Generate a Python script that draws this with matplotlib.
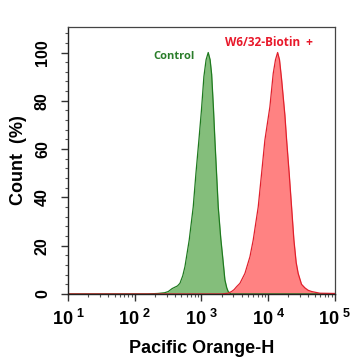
import matplotlib
matplotlib.use("Agg")
import matplotlib.pyplot as plt
from matplotlib.ticker import MultipleLocator, LogLocator, NullFormatter, FixedLocator
import numpy as np

# data (log10 of intensity, % of max count)
control_log = [1.0, 2.2, 2.35, 2.45, 2.503, 2.56, 2.603, 2.64, 2.678, 2.72, 2.753, 2.817,
               2.877, 2.918, 2.963, 3.0, 3.037, 3.07, 3.102, 3.13, 3.153, 3.18, 3.202,
               3.252, 3.29, 3.318, 3.352, 3.38, 3.401, 3.44, 5.0]
control_pct = [0, 0, 0.2, 0.5, 1.0, 2.2, 2.8, 3.3, 4.4, 7.5, 11.3, 22.3,
               36, 50, 64, 76, 90, 97, 100, 97, 91, 77, 63.7,
               36, 23, 15.4, 5.8, 2.5, 1.0, 0, 0]

biotin_log = [1.0, 3.3, 3.4, 3.452, 3.49, 3.527, 3.577, 3.652, 3.727, 3.776, 3.851,
              3.902, 3.951, 4.026, 4.076, 4.11, 4.142, 4.17, 4.201, 4.251, 4.276, 4.315,
              4.351, 4.386, 4.42, 4.45, 4.5, 4.551, 4.6, 4.651, 4.775, 5.0]
biotin_pct = [0, 0, 0.3, 1.0, 1.8, 3.0, 4.4, 8.5, 15.4, 22.3, 36,
              50, 63.7, 77.5, 91.3, 97, 100, 97, 89, 74, 64, 50,
              36, 22.3, 13, 8.5, 4.0, 2.5, 1.5, 1.0, 0.3, 0.2]

x_ticks = [10, 100, 1000, 10000, 100000]
x_ticklabels = [r"$\mathbf{10^{\ 1}}$", r"$\mathbf{10^{\ 2}}$", r"$\mathbf{10^{\ 3}}$",
                r"$\mathbf{10^{\ 4}}$", r"$\mathbf{10^{\ 5}}$"]
y_ticks = [0, 20, 40, 60, 80, 100]

plt.rcParams['mathtext.fontset'] = 'custom'
plt.rcParams['mathtext.rm'] = 'Liberation Sans'
plt.rcParams['mathtext.bf'] = 'Liberation Sans:bold'

fig = plt.figure(figsize=(3.54, 3.62), dpi=100)
ax = fig.add_axes([0.192, 0.188, 0.754, 0.737])

cx = 10 ** np.array(control_log)
bx = 10 ** np.array(biotin_log)

ax.fill_between(cx, control_pct, color="#7dbb74", alpha=0.95, lw=0)
ax.plot(cx, control_pct, color="#1f7a1f", lw=0.9)
ax.fill_between(bx, biotin_pct, color="#ff7b7b", alpha=0.95, lw=0)
ax.plot(bx, biotin_pct, color="#e0202c", lw=0.9)

ax.set_xscale("log")
ax.set_xlim(10, 100000)
ax.set_ylim(0, 110.5)

ax.xaxis.set_major_locator(FixedLocator(x_ticks))
ax.set_xticklabels(x_ticklabels, fontsize=13)
ax.xaxis.set_minor_locator(LogLocator(base=10, subs=np.arange(2, 10)))
ax.xaxis.set_minor_formatter(NullFormatter())

ax.set_yticks(y_ticks)
ax.set_yticklabels([str(v) for v in y_ticks], rotation=90, va="center",
                   fontsize=11.5, fontweight="bold", family="Liberation Sans")
ax.yaxis.set_minor_locator(MultipleLocator(4))

ax.tick_params(axis="both", which="major", direction="out", length=5, width=1, color="#333333")
ax.tick_params(axis="both", which="minor", direction="out", length=2.5, width=0.8, color="#555555")
ax.tick_params(axis="y", pad=8)
ax.tick_params(axis="x", pad=6)

for s in ["top", "right"]:
    ax.spines[s].set_color("#444444")
    ax.spines[s].set_linewidth(0.9)
for s in ["left", "bottom"]:
    ax.spines[s].set_color("#222222")
    ax.spines[s].set_linewidth(1.0)

ax.set_xlabel("Pacific Orange-H", fontsize=13, fontweight="bold", family="Liberation Sans", labelpad=8)
ax.set_ylabel("Count  (%)", fontsize=13, fontweight="bold", family="Liberation Sans", labelpad=6)

ax.text(0.397, 0.891, "Control", transform=ax.transAxes, ha="center", va="center",
        color="#2a7d2a", fontsize=8, fontweight="bold", family="Open Sans")
ax.text(0.753, 0.941, "W6/32-Biotin  +", transform=ax.transAxes, ha="center", va="center",
        color="#e8182a", fontsize=8.5, fontweight="bold", family="Open Sans")

fig.savefig("out.png", dpi=100)
